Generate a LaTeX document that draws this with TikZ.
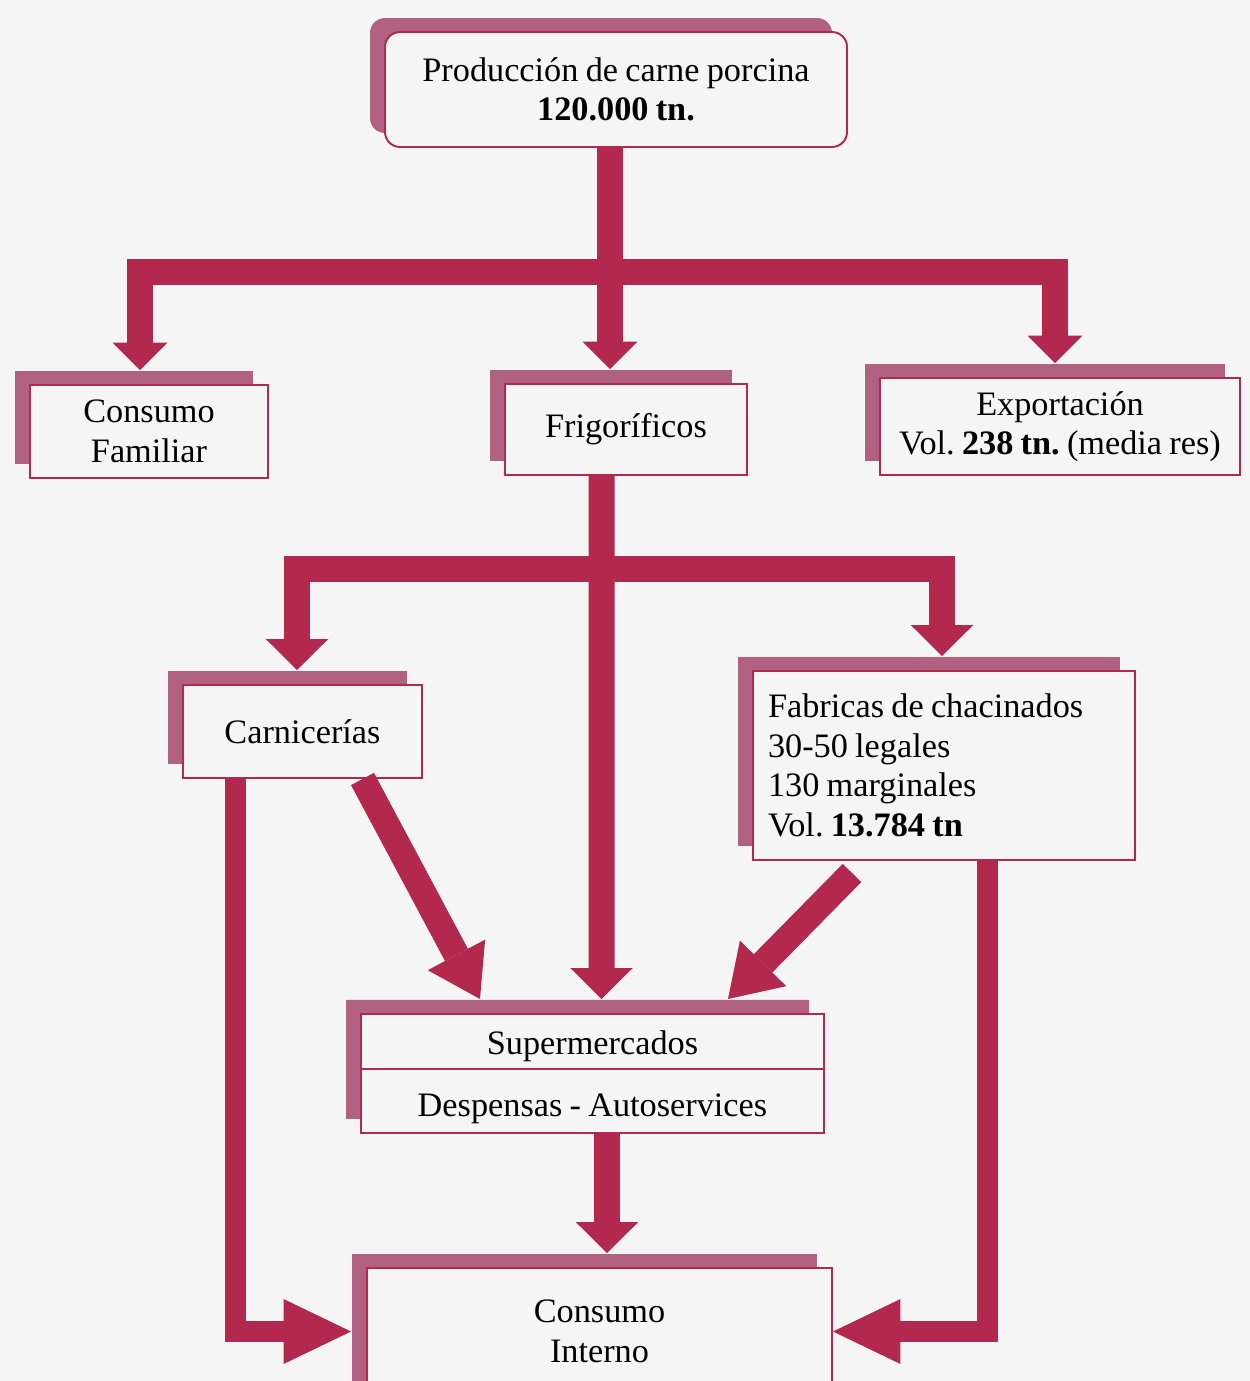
\documentclass[tikz,border=0pt]{standalone}
\usepackage{fontspec}
\setmainfont[WordSpace=0.85]{Liberation Serif}
\usepackage{tikz}
\usetikzlibrary{shapes,arrows,arrows.meta,shadows}
\definecolor{flecha}{RGB}{178,40,78}
\definecolor{sombra}{RGB}{176,98,128}
\definecolor{papel}{RGB}{245,245,245}
\tikzstyle{block} = [rectangle, draw=flecha, line width=1.1pt, fill=papel,
align=center, font=\fontsize{19.5}{22.5}\selectfont,
drop shadow={shadow xshift=-0.3cm, shadow yshift=0.28cm, fill=sombra, opacity=1}]
\tikzstyle{line} = [draw=flecha, line width=0.52cm, line join=miter]
\tikzstyle{thinline} = [draw=flecha, line width=0.42cm, line join=miter]
\tikzstyle{tipS} = [-{Triangle[width=1.1cm,length=0.55cm,line width=0pt]}]
\tikzstyle{tipM} = [-{Triangle[width=1.25cm,length=0.62cm,line width=0pt]}]
\tikzstyle{tipL} = [-{Triangle[width=1.3cm,length=1.0cm,line width=0pt]}]
\tikzstyle{tipB} = [-{Triangle[width=1.3cm,length=1.35cm,line width=0pt]}]

\begin{document}
\frenchspacing
\begin{tikzpicture}
	\fill [papel] (0,0) rectangle (25,-27.62);
	\useasboundingbox (0,0) rectangle (25,-27.62);
	% Place nodes
	\node [block, rounded corners=0.3cm, minimum width=9.24cm, minimum height=2.3cm] (prod) at (12.32,-1.79)
		{Producción de carne porcina\\ \textbf{120.000 tn.}};
	\node [block, minimum width=4.76cm, minimum height=1.86cm] (familiar) at (2.98,-8.63) {Consumo\\ Familiar};
	\node [block, minimum width=4.84cm, minimum height=1.82cm] (frigo) at (12.52,-8.59) {Frigoríficos};
	\node [block, minimum width=7.2cm, minimum height=1.94cm] (export) at (21.2,-8.53)
		{Exportación\\ Vol. \textbf{238 tn.} (media res)};
	\node [block, minimum width=4.78cm, minimum height=1.86cm] (carn) at (6.05,-14.63) {Carnicerías};
	\node [block, text width=7.04cm, inner xsep=0.3cm, align=flush left, minimum height=3.78cm] (fab) at (18.88,-15.31)
		{Fabricas de chacinados\\ 30-50 legales\\ 130 marginales\\ Vol. \textbf{13.784 tn}};
	\node [block, rectangle split, rectangle split parts=2, text width=9.0cm, inner xsep=0.13cm, inner ysep=0pt,
		align=flush center, anchor=north] (super) at (11.85,-20.26)
		{\rule[-0.26cm]{0pt}{1.06cm}Supermercados \nodepart{two} \rule[-0.3cm]{0pt}{1.24cm}Despensas - Autoservices};
	\node [block, minimum width=9.3cm, minimum height=2.54cm] (ci) at (11.99,-26.63) {Consumo\\ Interno};

	% first level
	\coordinate (j1) at (12.2,-5.44);
	\path [line] (prod.south -| j1) -- (j1);
	\path [line, tipS] (prod.south -| j1) -- ([xshift=-0.32cm,yshift=0.28cm]frigo.north);
	\path [line, tipS] (j1) -| ([xshift=-0.18cm,yshift=0.28cm]familiar.north);
	\path [line, tipS] (j1) -| ([xshift=-0.1cm,yshift=0.28cm]export.north);

	% second level
	\coordinate (j2) at (12.03,-11.37);
	\path [line, tipM] ([xshift=-0.49cm]frigo.south) -- ([xshift=0.18cm,yshift=0.28cm]super.north);
	\path [line, tipM] (j2) -| ([xshift=-0.11cm,yshift=0.28cm]carn.north);
	\path [line, tipM] (j2) -| ([xshift=-0.04cm,yshift=0.28cm]fab.north);

	% to supermercados
	\path [line, tipL] ([xshift=1.2cm]carn.south) -- ([xshift=-2.25cm,yshift=0.28cm]super.north);
	\path [line, tipL] ([xshift=-1.84cm,yshift=-0.24cm]fab.south) -- ([xshift=2.71cm,yshift=0.28cm]super.north);

	% to consumo interno
	\path [line, tipM] ([xshift=0.29cm]super.south) -- ([xshift=0.15cm,yshift=0.28cm]ci.north);
	\path [thinline, tipB] ([xshift=-1.35cm]carn.south) |- ([xshift=-0.3cm]ci.west);
	\path [thinline, tipB] ([xshift=0.86cm]fab.south) |- (ci.east);
\end{tikzpicture}
\end{document}
